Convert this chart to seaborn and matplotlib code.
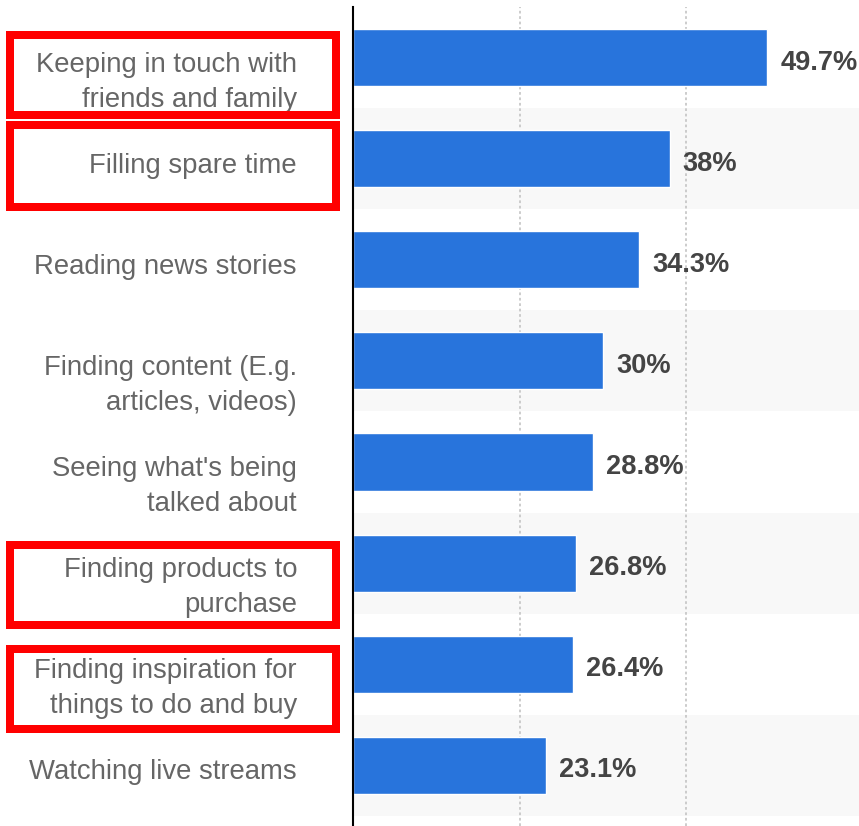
import matplotlib
matplotlib.use("Agg")
import matplotlib.pyplot as plt
import seaborn as sns
import pandas as pd
from matplotlib.patches import Rectangle

# ---- data ----
categories = [
    "Keeping in touch with\nfriends and family",
    "Filling spare time",
    "Reading news stories",
    "Finding content (E.g.\narticles, videos)",
    "Seeing what's being\ntalked about",
    "Finding products to\npurchase",
    "Finding inspiration for\nthings to do and buy",
    "Watching live streams",
]
values = [49.7, 38, 34.3, 30, 28.8, 26.8, 26.4, 23.1]
value_labels = ["49.7%", "38%", "34.3%", "30%", "28.8%", "26.8%", "26.4%", "23.1%"]

# ---- styling ----
W, H = 859, 826
BAR_COLOR = "#2874DC"
sns.set_theme(style="white")
plt.rcParams["font.family"] = ["Liberation Sans", "DejaVu Sans"]

fig = plt.figure(figsize=(W / 100, H / 100), dpi=100)
ax = fig.add_axes([353 / W, 0, 1 - 353 / W, 1 - 7 / H])

df = pd.DataFrame({"category": categories, "value": values})
sns.barplot(data=df, x="value", y="category", orient="h", color=BAR_COLOR,
            saturation=1, width=0.565, ax=ax, zorder=2)

n = len(categories)
# alternating row stripes
for i in range(1, n, 2):
    ax.axhspan(i - 0.5, i + 0.5, color="#f8f8f8", lw=0, zorder=0)

ax.set_xlim(0, 60.7)
ax.set_ylim(7.6, -0.5)
ax.set_xticks([20, 40])
ax.set_axisbelow(True)
ax.xaxis.grid(True, linestyle=(0, (1.5, 1.5)), color="#c8c8c8", lw=1.3, zorder=1)
ax.yaxis.grid(False)
ax.tick_params(length=0, labelbottom=False, labelleft=False)
ax.set_xlabel("")
ax.set_ylabel("")
for s in ["top", "right", "bottom"]:
    ax.spines[s].set_visible(False)
ax.spines["left"].set_color("black")
ax.spines["left"].set_linewidth(1.5)
ax.spines["left"].set_zorder(5)

# category labels (first line sits next to the bar, extra lines below)
for i, lab in enumerate(categories):
    ax.annotate(lab, xy=(0, i), xycoords=ax.get_yaxis_transform(),
                xytext=(-56, 6), textcoords="offset pixels",
                ha="right", va="top", fontsize=19.8, color="#666666",
                linespacing=1.45, annotation_clip=False)

# value labels
for i, (v, vl) in enumerate(zip(values, value_labels)):
    ax.annotate(vl, xy=(v, i), xytext=(13, -12), textcoords="offset pixels",
                ha="left", va="baseline", fontsize=19.6, fontweight="bold",
                color="#444444", annotation_clip=False, zorder=6)

# red highlight boxes (pixel coords, top-left origin)
boxes = [(10, 35, 336, 114.5), (10, 125, 336, 207), (10, 545, 336, 625), (10, 649, 336, 729)]
for x0, y0, x1, y1 in boxes:
    fig.add_artist(Rectangle((x0 / W, 1 - y1 / H), (x1 - x0) / W, (y1 - y0) / H,
                             transform=fig.transFigure, fill=False,
                             edgecolor="#FF0000", lw=8 * 0.72, joinstyle="miter"))

fig.savefig("out.png", dpi=100)
